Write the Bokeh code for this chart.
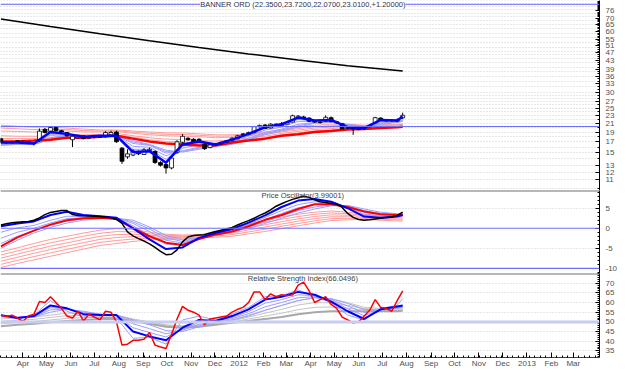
import pandas as pd
from bokeh.plotting import figure
from bokeh.layouts import column
from bokeh.models import Range1d, FixedTicker, Span, Label, ColumnDataSource, NumeralTickFormatter
from bokeh.embed import file_html
from bokeh.resources import INLINE

# ---------------- texts ----------------
TITLE = "BANNER ORD (22.3500,23.7200,22.0700,23.0100,+1.20000)"
OSC_TITLE = "Price Oscillator(3.99001)"
RSI_TITLE = "Relative Strength Index(66.0496)"

# ---------------- dates ----------------
first_week = "2011-03-04"
n_weeks = 74
weeks = pd.date_range(first_week, periods=n_weeks, freq="7D")
sample_idx = [0, 3, 6, 9, 12, 15, 18, 21, 24, 27, 30, 33, 36, 39, 42, 45, 48, 51, 54, 57, 60, 63, 66, 69, 72, 73]
long_idx = [0, 9, 18, 27, 36, 45, 54, 63, 73]
month_labels = ["Apr", "May", "Jun", "Jul", "Aug", "Sep", "Oct", "Nov", "Dec", "2012", "Feb", "Mar",
                "Apr", "May", "Jun", "Jul", "Aug", "Sep", "Oct", "Nov", "Dec", "2013", "Feb", "Mar"]

# ---------------- weekly candles ----------------
opens = [17.6, 16.9, 16.8, 17.2, 16.9, 17.0, 16.8, 17.2, 19.6, 19.2,
         20.0, 19.3, 18.9, 17.4, 17.8, 18.2, 17.7, 17.9, 18.1, 18.0,
         18.4, 19.0, 15.8, 14.3, 14.6, 15.2, 14.7, 15.4, 15.2, 13.4,
         13.1, 12.6, 15.0, 16.9, 17.7, 17.5, 17.5, 16.5, 15.9, 16.4,
         16.6, 16.9, 17.2, 17.6, 18.6, 18.5, 18.9, 20.2, 20.6, 19.9,
         20.8, 20.5, 20.8, 21.3, 22.2, 22.6, 22.3, 21.5, 21.3, 21.5,
         22.4, 21.4, 20.9, 19.8, 19.9, 19.7, 19.7, 20.1, 21.1, 22.3,
         21.8, 21.6, 21.5, 22.35]
highs = [17.8, 17.1, 17.2, 17.3, 17.3, 17.1, 16.9, 19.8, 19.9, 20.3,
         20.2, 19.5, 19.0, 18.3, 18.4, 18.3, 18.0, 18.2, 18.4, 19.2,
         19.3, 19.3, 16.0, 15.6, 15.6, 15.4, 15.8, 15.9, 15.4, 13.6,
         13.3, 14.3, 17.3, 18.6, 17.9, 17.7, 17.7, 17.0, 16.6, 16.8,
         17.0, 17.3, 17.9, 18.4, 18.8, 19.1, 20.4, 20.7, 20.8, 21.0,
         21.0, 21.3, 21.4, 23.2, 23.1, 22.9, 22.5, 21.8, 21.6, 23.0,
         22.7, 21.6, 21.1, 20.2, 20.1, 19.9, 20.3, 20.6, 22.6, 22.5,
         22.0, 22.0, 22.2, 23.72]
lows = [16.7, 16.6, 16.7, 16.8, 16.8, 16.6, 16.3, 17.0, 18.7, 19.0,
        19.1, 18.8, 18.0, 16.0, 17.6, 17.5, 17.5, 17.7, 17.8, 17.8,
        18.3, 16.8, 13.2, 14.0, 14.4, 14.6, 14.6, 15.2, 13.2, 12.8,
        11.8, 12.4, 14.8, 16.6, 17.2, 16.8, 16.9, 15.5, 15.8, 16.2,
        16.4, 16.8, 17.1, 17.5, 18.2, 18.3, 18.7, 20.0, 19.7, 19.8,
        20.3, 20.4, 20.7, 21.2, 22.0, 22.0, 21.3, 21.1, 20.9, 21.3,
        21.3, 20.9, 19.6, 19.6, 18.4, 19.4, 19.5, 20.0, 20.9, 21.6,
        21.4, 21.5, 21.3, 22.07]
closes = [16.9, 16.8, 17.0, 16.9, 17.1, 16.8, 16.7, 19.2, 18.9, 20.0,
          19.3, 19.0, 18.2, 18.1, 18.2, 17.6, 17.9, 18.0, 17.9, 18.9,
          18.9, 17.0, 13.6, 14.8, 15.3, 14.8, 15.5, 15.6, 13.4, 13.0,
          12.6, 14.1, 17.0, 18.1, 17.4, 16.9, 17.0, 15.7, 16.4, 16.6,
          16.9, 17.2, 17.7, 18.2, 18.4, 18.9, 20.2, 20.5, 19.8, 20.8,
          20.5, 20.9, 21.2, 22.9, 22.8, 22.2, 21.5, 21.3, 21.2, 22.5,
          21.4, 21.1, 19.7, 19.9, 19.7, 19.6, 20.1, 20.4, 22.4, 21.8,
          21.6, 21.8, 21.81, 23.01]

# long declining average (top of price panel)
long_avg = [69.4, 63.6, 58.5, 54.0, 50.0, 46.5, 43.4, 40.6, 38.2]

# short-term averages (blue) on price, at sample weeks
pb1 = [16.86, 16.86, 16.67, 19.02, 18.61, 18.01, 18.21, 18.21, 15.10, 15.27, 13.38, 16.49, 17.05,
       16.49, 17.42, 18.61, 20.10, 20.77, 22.43, 21.70, 21.82, 20.10, 19.88, 21.82, 21.70, 22.68]
pb2 = [16.75, 16.80, 16.64, 18.70, 18.50, 18.01, 18.17, 18.21, 15.60, 15.60, 13.90, 16.15, 16.78,
       16.40, 17.24, 18.36, 19.78, 20.44, 21.95, 21.58, 21.70, 20.20, 20.00, 21.58, 21.58, 22.45]
pb3 = [16.64, 16.72, 16.60, 18.41, 18.41, 18.01, 18.13, 18.21, 16.13, 15.96, 14.45, 15.78, 16.49,
       16.31, 17.05, 18.11, 19.45, 20.10, 21.47, 21.47, 21.58, 20.32, 20.10, 21.35, 21.47, 22.19]
pb4 = [16.45, 16.60, 16.55, 17.81, 18.29, 18.01, 18.07, 18.21, 16.67, 16.31, 14.94, 15.36, 15.96,
       16.22, 16.77, 17.72, 18.92, 19.66, 20.77, 21.23, 21.39, 20.54, 20.21, 21.07, 21.35, 21.82]
pb5 = [16.38, 16.55, 16.52, 17.60, 18.25, 18.01, 18.04, 18.21, 16.95, 16.40, 15.18, 15.22, 15.78,
       16.17, 16.63, 17.57, 18.66, 19.45, 20.43, 21.11, 21.31, 20.66, 20.27, 20.92, 21.29, 21.64]
pb6 = [16.31, 16.49, 16.49, 17.42, 18.21, 18.01, 18.01, 18.21, 17.23, 16.49, 15.44, 15.10, 15.61,
       16.13, 16.49, 17.42, 18.41, 19.23, 20.10, 21.00, 21.23, 20.77, 20.32, 20.77, 21.23, 21.47]
# long-term averages (red) on price
pr1 = [17.05, 17.05, 17.23, 17.42, 17.81, 17.81, 18.01, 18.21, 17.62, 17.05, 16.67, 16.49, 16.31,
       16.31, 16.86, 17.23, 17.62, 18.21, 18.51, 19.02, 19.23, 19.55, 19.66, 19.88, 20.10, 20.21]
pr2 = [17.62, 17.62, 17.62, 17.81, 18.21, 18.11, 18.21, 18.41, 17.91, 17.42, 17.05, 16.95, 16.77,
       16.67, 17.14, 17.42, 17.81, 18.41, 18.82, 19.23, 19.45, 19.77, 19.81, 20.04, 20.21, 20.32]
pr3 = [18.21, 18.11, 18.11, 18.21, 18.51, 18.41, 18.51, 18.72, 18.21, 17.81, 17.52, 17.42, 17.23,
       17.14, 17.42, 17.72, 18.11, 18.72, 19.13, 19.55, 19.77, 19.99, 19.99, 20.21, 20.32, 20.43]
pr4 = [19.23, 19.13, 19.02, 19.13, 19.23, 19.02, 19.02, 19.13, 18.72, 18.41, 18.21, 18.11, 18.01,
       17.81, 17.91, 18.21, 18.51, 19.02, 19.45, 19.88, 20.10, 20.32, 20.21, 20.43, 20.54, 20.65]
pr5 = [19.88, 19.73, 19.55, 19.59, 19.55, 19.34, 19.23, 19.30, 18.98, 18.72, 18.51, 18.47, 18.31,
       18.11, 18.17, 18.41, 18.78, 19.23, 19.77, 20.21, 20.43, 20.54, 20.39, 20.54, 20.65, 20.77]
pr6 = [20.54, 20.32, 20.10, 20.10, 19.88, 19.66, 19.45, 19.45, 19.23, 19.02, 18.82, 18.82, 18.61,
       18.41, 18.41, 18.61, 19.02, 19.45, 20.10, 20.54, 20.77, 20.77, 20.54, 20.65, 20.77, 20.89]
price_levels = [82.0, 20.25]

# ---------------- price oscillator ----------------
osc = [0.8, 1.1, 1.35, 1.5, 1.6, 1.7, 2.0, 2.6, 3.4, 3.95,
       4.2, 4.4, 4.4, 3.4, 3.2, 3.1, 3.05, 3.0, 2.95, 2.8,
       2.6, 2.2, 1.2, -0.9, -1.9, -2.6, -3.2, -3.9, -4.8, -5.8,
       -6.6, -6.5, -5.4, -3.4, -2.2, -1.8, -1.7, -1.6, -1.2, -0.8,
       -0.5, -0.2, 0.2, 0.8, 1.4, 1.9, 2.5, 3.2, 3.8, 4.6,
       5.5, 6.1, 6.7, 7.2, 7.6, 8.0, 7.7, 7.1, 6.6, 6.4,
       6.2, 6.0, 5.2, 3.7, 2.7, 2.2, 2.0, 2.1, 2.3, 2.5,
       2.7, 2.8, 3.2, 3.99]
ob1 = [0.5, 1.2, 1.7, 3.3, 4.1, 3.3, 3.0, 2.6, 0.0, -2.8, -5.2, -4.8, -2.4,
       -1.2, -0.2, 1.4, 3.2, 5.3, 6.9, 7.3, 6.6, 5.0, 2.9, 2.6, 2.9, 3.3]
ob2 = [-1.0, 0.1, 0.7, 2.0, 3.0, 2.9, 2.7, 2.6, 0.6, -1.8, -4.0, -4.2, -2.5,
       -1.35, -0.45, 1.0, 2.7, 4.4, 5.9, 6.6, 6.3, 5.3, 3.5, 3.0, 3.1, 3.4]
ob3 = [-2.5, -1.0, 0.0, 1.3, 2.4, 2.6, 2.6, 2.6, 1.2, -0.8, -3.0, -3.7, -2.5,
       -1.5, -0.6, 0.7, 2.1, 3.7, 5.1, 5.9, 6.0, 5.5, 4.0, 3.4, 3.3, 3.4]
ob4 = [-3.8, -2.0, -0.6, 0.7, 1.8, 2.3, 2.5, 2.55, 1.6, -0.2, -2.4, -3.3, -2.45,
       -1.55, -0.75, 0.35, 1.65, 3.1, 4.4, 5.3, 5.8, 5.6, 4.4, 3.7, 3.45, 3.45]
ob5 = [-5.0, -3.0, -1.2, 0.2, 1.3, 2.0, 2.4, 2.5, 2.0, 0.3, -1.8, -2.9, -2.4,
       -1.6, -0.9, 0.0, 1.2, 2.5, 3.8, 4.8, 5.6, 5.7, 4.8, 4.0, 3.6, 3.5]
or1 = [-4.5, -2.3, -0.6, 0.9, 2.0, 2.5, 2.6, 2.3, 0.0, -2.0, -3.6, -4.2, -2.7,
       -1.6, -0.8, 0.5, 2.1, 3.3, 4.8, 6.0, 6.0, 5.3, 4.2, 3.5, 3.3, 3.3]
or_top = [-5.9, -4.9, -3.8, -2.8, -2.0, -1.2, -0.5, -0.1, -0.3, -1.0, -1.5, -1.7, -1.6,
          -0.9, 0.1, 1.0, 2.0, 2.8, 3.5, 4.0, 4.3, 4.0, 3.5, 3.3, 3.1, 3.1]
or_f4 = [-6.68, -5.68, -4.62, -3.64, -2.82, -2.0, -1.26, -0.84, -0.9, -1.38, -1.76, -1.9, -1.76,
         -1.17, -0.32, 0.52, 1.44, 2.22, 2.92, 3.46, 3.82, 3.62, 3.24, 3.04, 2.84, 2.84]
or_f3 = [-7.46, -6.46, -5.44, -4.48, -3.64, -2.8, -2.02, -1.58, -1.5, -1.76, -2.02, -2.1, -1.92,
         -1.44, -0.74, 0.04, 0.88, 1.64, 2.34, 2.92, 3.34, 3.24, 2.98, 2.78, 2.58, 2.58]
or_f2 = [-8.24, -7.24, -6.26, -5.32, -4.46, -3.6, -2.78, -2.32, -2.1, -2.14, -2.28, -2.3, -2.08,
         -1.71, -1.16, -0.44, 0.32, 1.06, 1.76, 2.38, 2.86, 2.86, 2.72, 2.52, 2.32, 2.32]
or_f1 = [-9.02, -8.02, -7.08, -6.16, -5.28, -4.4, -3.54, -3.06, -2.7, -2.52, -2.54, -2.5, -2.24,
         -1.98, -1.58, -0.92, -0.24, 0.48, 1.18, 1.84, 2.38, 2.48, 2.46, 2.26, 2.06, 2.06]
or_bot = [-9.8, -8.8, -7.9, -7.0, -6.1, -5.2, -4.3, -3.8, -3.3, -2.9, -2.8, -2.7, -2.4,
          -2.25, -2.0, -1.4, -0.8, -0.1, 0.6, 1.3, 1.9, 2.1, 2.2, 2.0, 1.8, 1.8]
osc_levels = [0, -10]

# ---------------- RSI ----------------
rsi = [53.5, 52.8, 53.5, 52.0, 50.2, 53.0, 54.0, 60.5, 60.0, 63.0,
       60.0, 57.0, 53.0, 52.0, 55.5, 50.5, 54.0, 52.5, 51.0, 55.5,
       55.0, 50.0, 38.0, 38.5, 40.5, 40.5, 41.0, 44.5, 38.0, 37.0,
       36.3, 43.5, 51.5, 58.0, 56.0, 55.0, 53.5, 48.5, 51.5, 52.0,
       52.5, 53.0, 55.0, 56.5, 57.5, 60.0, 65.5, 65.5, 61.5, 64.5,
       63.0, 64.0, 63.5, 64.0, 69.0, 70.5, 66.0, 60.0, 61.5, 63.0,
       59.0, 57.0, 52.5, 51.0, 49.5, 50.0, 53.0, 56.0, 61.5, 57.5,
       57.0, 55.5, 61.0, 66.05]
rb_fast = [53.5, 51.5, 53.5, 61.0, 55.5, 52.5, 52.5, 52.0, 41.5, 42.0, 38.5, 51.0, 53.0,
           51.0, 54.0, 57.5, 63.0, 63.5, 66.5, 63.0, 60.0, 53.5, 51.0, 57.0, 58.5, 62.0]
rb1 = [53.5, 52.0, 53.0, 58.5, 57.0, 54.0, 53.5, 53.5, 45.0, 42.5, 40.5, 47.0, 51.0,
       50.5, 53.0, 56.5, 61.5, 63.0, 65.5, 64.0, 60.5, 55.5, 51.5, 56.5, 58.0, 58.5]
rb2 = [53.2, 52.2, 52.8, 57.3, 56.8, 54.5, 53.7, 53.5, 47.0, 44.5, 42.2, 46.3, 49.8,
       50.2, 52.3, 55.3, 59.7, 61.5, 64.0, 63.5, 61.0, 56.8, 53.2, 56.3, 57.7, 58.2]
rb3 = [52.8, 52.3, 52.7, 56.2, 56.6, 55.0, 53.8, 53.5, 49.0, 46.5, 43.8, 45.7, 48.7,
       49.8, 51.7, 54.2, 57.8, 60.0, 62.5, 63.0, 61.5, 58.2, 54.8, 56.2, 57.3, 57.8]
rb4 = [52.5, 52.5, 52.5, 55.0, 56.5, 55.5, 54.0, 53.5, 51.0, 48.5, 45.5, 45.0, 47.5,
       49.5, 51.0, 53.0, 56.0, 58.5, 61.0, 62.5, 62.0, 59.5, 56.5, 56.0, 57.0, 57.5]
rg_top = [51.5, 52.0, 52.5, 53.5, 54.5, 54.5, 54.0, 53.5, 51.5, 50.0, 48.5, 48.0, 48.5,
          49.5, 51.0, 53.5, 56.0, 58.5, 61.0, 62.5, 62.0, 60.0, 57.5, 57.0, 57.0, 57.0]
rg2 = [50.3, 50.8, 51.3, 52.3, 53.2, 53.3, 53.2, 52.8, 51.2, 49.7, 48.2, 47.7, 48.2,
       49.2, 50.5, 52.5, 54.5, 56.5, 58.7, 60.0, 59.8, 58.5, 56.8, 56.5, 56.5, 56.6]
rg1 = [49.0, 49.7, 50.2, 51.0, 51.8, 52.2, 52.3, 52.2, 50.8, 49.3, 47.8, 47.3, 47.8,
       48.8, 50.0, 51.5, 53.0, 54.5, 56.3, 57.5, 57.7, 57.0, 56.2, 56.0, 56.0, 56.2]
rg_bot = [47.8, 48.5, 49.0, 49.8, 50.5, 51.0, 51.5, 51.5, 50.5, 49.0, 47.5, 47.0, 47.5,
          48.5, 49.5, 50.5, 51.5, 52.5, 54.0, 55.0, 55.5, 55.5, 55.5, 55.5, 55.5, 55.8]
rsi_level = 50

# ---------------- layout / style ----------------
W = 624
RIGHT = 25
FONT = "Liberation Sans"
LBL = "#505050"


def ms(t):
    return int(pd.Timestamp(t).value // 10**6)


sdates = weeks[sample_idx]
ldates = weeks[long_idx]
x_range = Range1d(start=ms("2011-03-03 11:30"), end=ms("2013-04-03 07:00"))
title_x = ms("2012-03-22")


def base_fig(height, y_range, log=False, xaxis=False):
    p = figure(width=W, height=height, x_range=x_range, y_range=y_range,
               y_axis_type="log" if log else "linear", x_axis_type="datetime",
               x_axis_location="below" if xaxis else None, y_axis_location="right",
               toolbar_location=None, output_backend="svg", min_border=0,
               min_border_right=RIGHT, min_border_left=0, min_border_top=0,
               min_border_bottom=0)
    p.outline_line_color = None
    p.background_fill_color = "white"
    p.border_fill_color = "white"
    p.xgrid.visible = False
    ya = p.yaxis[0]
    ya.axis_line_color = "black"
    ya.major_tick_in = 4
    ya.major_tick_out = 0
    ya.minor_tick_in = 2
    ya.minor_tick_out = 0
    ya.major_tick_line_color = "black"
    ya.minor_tick_line_color = "black"
    ya.major_label_text_font = FONT
    ya.major_label_text_font_size = "8px"
    ya.major_label_text_color = LBL
    ya.major_label_standoff = 6
    ya.formatter = NumeralTickFormatter(format="0")
    g = p.ygrid[0]
    g.grid_line_color = "#cfcfcf"
    g.grid_line_dash = "1 2"
    g.grid_line_width = 1
    return p


# ---- price panel ----
p1 = base_fig(190, Range1d(9.73, 85.7), log=True)
p1.yaxis[0].ticker = FixedTicker(ticks=[11, 12, 13, 15, 17, 19, 21, 23, 25, 27, 30, 33, 36, 39,
                                        43, 47, 51, 55, 60, 65, 70, 76],
                                 minor_ticks=list(range(10, 86)))
p1.ygrid[0].ticker = FixedTicker(ticks=list(range(10, 31)) + list(range(32, 51, 2)) + list(range(53, 87, 3)))
for lv in price_levels:
    p1.add_layout(Span(location=lv, dimension="width", line_color="#6e6eff", line_width=1))

for arr in [pr2, pr3, pr4, pr5, pr6]:
    p1.line(sdates, arr, line_color="#ff9c9c", line_width=1)
for arr in [pb2, pb3, pb4, pb5, pb6]:
    p1.line(sdates, arr, line_color="#9c9cff", line_width=1)
p1.line(sdates, pr1, line_color="#ff0000", line_width=2.5)

top = [max(o, c) for o, c in zip(opens, closes)]
bot = [min(o, c) for o, c in zip(opens, closes)]
fill = ["white" if c >= o else "black" for o, c in zip(opens, closes)]
csrc = ColumnDataSource(dict(x=weeks, h=highs, l=lows, top=top, bot=bot, fill=fill))
p1.segment(x0="x", y0="l", x1="x", y1="h", source=csrc, line_color="black", line_width=1)
p1.vbar(x="x", width=5 * 86400000, top="top", bottom="bot", source=csrc,
        fill_color="fill", line_color="black", line_width=0.8)
p1.line(sdates, pb1, line_color="#0000ff", line_width=2.5)
p1.line(ldates, long_avg, line_color="black", line_width=1.5)
p1.add_layout(Label(x=title_x, y=82.0, text=TITLE, text_align="center", text_baseline="middle",
                    text_font=FONT, text_font_size="7.5px", text_color="#303050",
                    background_fill_color="white"))

# ---- oscillator panel ----
p2 = base_fig(83, Range1d(-11.3, 9.42))
p2.yaxis[0].ticker = FixedTicker(ticks=[5, 0, -5, -10], minor_ticks=list(range(-11, 10)))
p2.ygrid[0].ticker = FixedTicker(ticks=[5, -5])
for lv in osc_levels:
    p2.add_layout(Span(location=lv, dimension="width", line_color="#6e6eff", line_width=1.2))
p2.add_layout(Span(location=9.42, dimension="width", line_color="#707070", line_width=2))
for arr in [or_bot, or_f1, or_f2, or_f3, or_f4, or_top]:
    p2.line(sdates, arr, line_color="#ff9c9c", line_width=1)
for arr in [ob2, ob3, ob4, ob5]:
    p2.line(sdates, arr, line_color="#9c9cff", line_width=1)
p2.line(sdates, or1, line_color="#ff0000", line_width=2)
p2.line(sdates, ob1, line_color="#0000ff", line_width=2)
p2.line(weeks, osc, line_color="black", line_width=1.5)
p2.add_layout(Label(x=title_x, y=8.2, text=OSC_TITLE, text_align="center", text_baseline="middle",
                    text_font=FONT, text_font_size="7.5px", text_color="#404040"))

# ---- RSI panel ----
p3 = base_fig(97, Range1d(31.6, 75.0), xaxis=True)
p3.yaxis[0].ticker = FixedTicker(ticks=[35, 40, 45, 50, 55, 60, 65, 70], minor_ticks=list(range(32, 76)))
p3.ygrid[0].ticker = FixedTicker(ticks=[35, 40, 45, 55, 60, 65, 70])
p3.add_layout(Span(location=rsi_level, dimension="width", line_color="#c6ccf4", line_width=3))
p3.add_layout(Span(location=75.0, dimension="width", line_color="#707070", line_width=2))
for arr in [rg1, rg2, rg_top]:
    p3.line(sdates, arr, line_color="#c4c4c4", line_width=1)
p3.line(sdates, rg_bot, line_color="#a8a8a8", line_width=2)
for arr in [rb_fast, rb2, rb3, rb4]:
    p3.line(sdates, arr, line_color="#9c9cff", line_width=1)
p3.line(sdates, rb1, line_color="#0000ff", line_width=2)
p3.line(weeks, rsi, line_color="#ff0000", line_width=1.5)
p3.add_layout(Label(x=title_x, y=72.6, text=RSI_TITLE, text_align="center", text_baseline="middle",
                    text_font=FONT, text_font_size="7.5px", text_color="#404040"))

month_ticks = [ms(t) for t in pd.date_range("2011-04-01", periods=len(month_labels), freq="MS")]
week_ticks = [ms(t) for t in pd.date_range("2011-03-04", "2013-04-03", freq="7D")]
xa = p3.xaxis[0]
xa.ticker = FixedTicker(ticks=month_ticks, minor_ticks=week_ticks)
xa.major_label_overrides = {t: lab for t, lab in zip(month_ticks, month_labels)}
xa.major_label_text_align = "left"
xa.major_label_text_font = FONT
xa.major_label_text_font_size = "8px"
xa.major_label_text_color = LBL
xa.major_label_standoff = 1
xa.major_tick_in = 5
xa.major_tick_out = 0
xa.minor_tick_in = 2
xa.minor_tick_out = 0
xa.axis_line_color = "#404040"

layout = column(p1, p2, p3, spacing=0)
open("out.html", "w").write(file_html(layout, INLINE))
